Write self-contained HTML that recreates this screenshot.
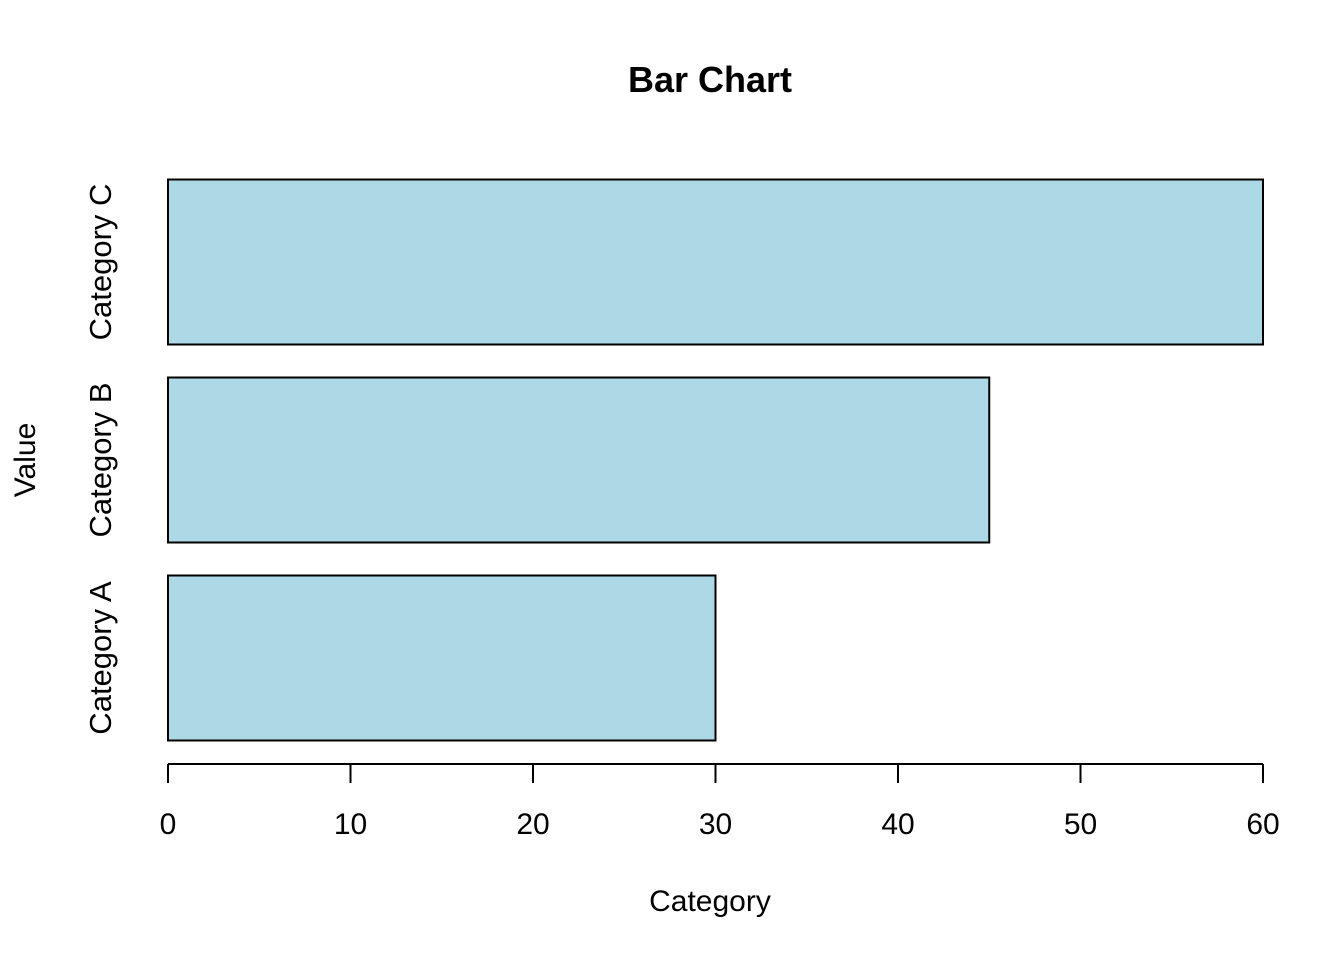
<!DOCTYPE html>
<html><head><meta charset="utf-8"><style>
body{margin:0;background:#fff;}
svg{display:block;font-family:"Liberation Sans",Arial,sans-serif;}
</style></head><body>
<svg id="chart" width="1344" height="960">
<text x="710" y="92" text-anchor="middle" font-size="36" font-weight="bold">Bar Chart</text>
<text x="710" y="911" text-anchor="middle" font-size="30">Category</text>
<text transform="translate(35,460) rotate(-90)" text-anchor="middle" font-size="30">Value</text>
<g id="bars"></g><g id="axis"></g>
</svg>
<script>
const categories = ["Category A","Category B","Category C"];
const values = [30,45,60];
const ticks = [0,10,20,30,40,50,60];
const ns="http://www.w3.org/2000/svg";
const x0=168, x1=1263, xmax=60;
const sx=v=>x0+(x1-x0)*v/xmax;
const firstCenter=658, step=198, bh=165;
const bars=document.getElementById('bars'), axis=document.getElementById('axis');
function mk(t,a,p){const e=document.createElementNS(ns,t);for(const k in a)e.setAttribute(k,a[k]);p.appendChild(e);return e;}
categories.forEach((c,i)=>{
  const cy=firstCenter-i*step;
  const r=mk('rect',{x:sx(0),y:cy-bh/2,width:sx(values[i])-sx(0),height:bh,fill:'#add8e6',stroke:'#000','stroke-width':2},bars);
  
  
  const t=mk('text',{transform:`translate(111,${cy}) rotate(-90)`,'text-anchor':'middle','font-size':31},bars);
  t.textContent=c;
  
  
});
const al=mk('line',{x1:sx(0),x2:sx(xmax),y1:764,y2:764,stroke:'#000','stroke-width':2},axis);


ticks.forEach(v=>{
  const l=mk('line',{x1:sx(v),x2:sx(v),y1:764,y2:783,stroke:'#000','stroke-width':2},axis);
  
  
  const t=mk('text',{x:sx(v),y:834,'text-anchor':'middle','font-size':30},axis);
  t.textContent=v;
  
  
});
</script>
</body></html>
